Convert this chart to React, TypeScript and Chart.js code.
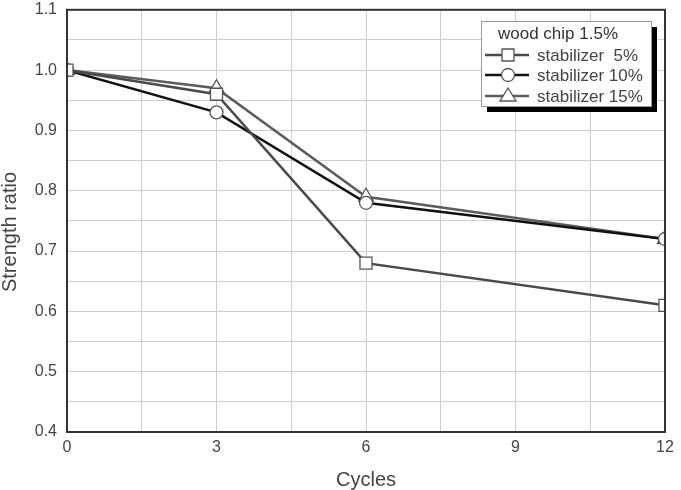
import React, { useEffect, useRef } from "react";
import { Chart, registerables } from "chart.js";

Chart.register(...registerables);

const cycles = [0, 3, 6, 12];
const stab5 = [1.0, 0.96, 0.68, 0.61];
const stab10 = [1.0, 0.93, 0.78, 0.72];
const stab15 = [1.0, 0.97, 0.79, 0.72];
const seriesLabels = ["stabilizer  5%", "stabilizer 10%", "stabilizer 15%"];
const legendTitle = "wood chip 1.5%";
const xTitle = "Cycles";
const yTitle = "Strength ratio";

const colors = ["#4a4a4a", "#111111", "#5c5c5c"];
const styles = ["rect", "circle", "triangle"];
const radii = [8.5, 6.5, 8.5];

const FONT = "'Liberation Sans', Arial, sans-serif";

const framePlugin = {
  id: "frameLegend",
  afterDraw(chart: any) {
    const ctx = chart.ctx;
    const a = chart.chartArea;
    ctx.save();
    ctx.strokeStyle = "#333";
    ctx.lineWidth = 2;
    ctx.strokeRect(a.left, a.top, a.right - a.left, a.bottom - a.top);

    // axis titles
    ctx.fillStyle = "#444";
    ctx.font = `20px ${FONT}`;
    ctx.textAlign = "center";
    ctx.textBaseline = "middle";
    ctx.fillText(xTitle, (a.left + a.right) / 2, 480);
    ctx.save();
    ctx.translate(10, 232);
    ctx.rotate(-Math.PI / 2);
    ctx.fillText(yTitle, 0, 0);
    ctx.restore();

    // legend box
    const bx = 481, by = 21, bw = 170, bh = 85;
    ctx.fillStyle = "#000";
    ctx.fillRect(bx + 6, by + 6, bw, bh);
    ctx.fillStyle = "#fff";
    ctx.fillRect(bx, by, bw, bh);
    ctx.strokeStyle = "#999";
    ctx.lineWidth = 1;
    ctx.strokeRect(bx + 0.5, by + 0.5, bw, bh);

    ctx.font = `17px ${FONT}`;
    ctx.fillStyle = "#333";
    ctx.textBaseline = "middle";
    ctx.textAlign = "left";
    ctx.fillText(legendTitle, 498, 34);
    const rows = [55, 75, 96];
    chart.data.datasets.forEach((ds: any, i: number) => {
      const y = rows[i];
      ctx.strokeStyle = ds.borderColor;
      ctx.lineWidth = 2.5;
      ctx.beginPath();
      ctx.moveTo(485, y);
      ctx.lineTo(529, y);
      ctx.stroke();
      ctx.fillStyle = "#fff";
      ctx.strokeStyle = "#555";
      ctx.lineWidth = 1.3;
      ctx.beginPath();
      const cx = 508;
      if (ds.pointStyle === "rect") {
        ctx.rect(cx - 6, y - 6, 12, 12);
      } else if (ds.pointStyle === "circle") {
        ctx.arc(cx, y, 6.5, 0, Math.PI * 2);
      } else {
        ctx.moveTo(cx, y - 8);
        ctx.lineTo(cx + 8, y + 5);
        ctx.lineTo(cx - 8, y + 5);
        ctx.closePath();
      }
      ctx.fill();
      ctx.stroke();
      ctx.fillStyle = "#444";
      ctx.fillText(ds.label, 537, y + 1);
    });
    ctx.restore();
  },
};

export default function App() {
  const ref = useRef<HTMLCanvasElement>(null);
  useEffect(() => {
    if (!ref.current) return;
    const sets = [stab5, stab10, stab15];
    const chart = new Chart(ref.current, {
      type: "line",
      data: {
        datasets: sets.map((s, i) => ({
          label: seriesLabels[i],
          data: s.map((v, j) => ({ x: cycles[j], y: v })),
          borderColor: colors[i],
          backgroundColor: "#fff",
          borderWidth: 2.5,
          pointStyle: styles[i] as any,
          pointRadius: radii[i],
          pointBorderWidth: 1.3,
          pointBorderColor: "#555",
          pointBackgroundColor: "#fff",
          tension: 0,
          fill: false,
        })),
      },
      options: {
        animation: false,
        responsive: false,
        layout: { padding: { top: 8, right: 16, left: 0, bottom: 0 } },
        plugins: {
          legend: { display: false },
          tooltip: { enabled: false },
        },
        scales: {
          x: {
            type: "linear",
            min: 0,
            max: 12,
            border: { display: false },
            grid: { color: "#cfcfcf", lineWidth: 1, drawTicks: false },
            ticks: {
              stepSize: 1.5,
              autoSkip: false,
              maxRotation: 0,
              padding: 6,
              color: "#444",
              font: { family: FONT, size: 16 },
              callback: (v: any) => (Math.round(v * 10) % 30 === 0 ? String(v) : ""),
            },
            afterFit: (s: any) => {
              s.height = 58;
              s.paddingLeft = 0;
              s.paddingRight = 0;
            },
          },
          y: {
            type: "linear",
            min: 0.4,
            max: 1.1,
            border: { display: false },
            grid: { color: "#cfcfcf", lineWidth: 1, drawTicks: false },
            ticks: {
              stepSize: 0.05,
              autoSkip: false,
              padding: 10,
              color: "#444",
              font: { family: FONT, size: 16 },
              callback: (v: any) => {
                const n = Math.round(v * 100);
                return n % 10 === 0 ? (n / 100).toFixed(1) : "";
              },
            },
            afterFit: (s: any) => {
              s.width = 67;
              s.paddingTop = 0;
              s.paddingBottom = 0;
            },
          },
        },
      },
      plugins: [framePlugin],
    });
    return () => chart.destroy();
  }, []);
  return (
    <div style={{ position: "fixed", left: 0, top: 0, width: 681, height: 490, background: "#fff" }}>
      <canvas ref={ref} width={681} height={490} style={{ width: 681, height: 490 }} />
    </div>
  );
}
